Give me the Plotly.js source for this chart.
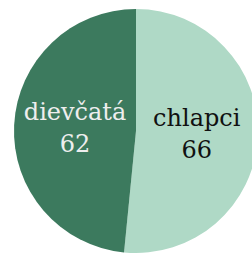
<!DOCTYPE html>
<html><head><meta charset="utf-8">
<script src="https://cdn.plot.ly/plotly-3.0.1.min.js"></script>
<style>html,body{margin:0;padding:0;overflow:hidden;background:#fff;}#chart{width:260px;height:255px;}</style>
</head><body><div id="chart"></div>
<script>
const labels = ["chlapci", "dievčatá"];
const values = [66, 62];
const colors = ["#afd9c6", "#3c7a5e"];
const textColors = ["#111111", "#eeeeee"];

Plotly.newPlot("chart", [{
  type: "pie",
  labels: labels,
  values: values,
  sort: false,
  direction: "clockwise",
  rotation: 0,
  textinfo: "label+value",
  textposition: "inside",
  insidetextorientation: "horizontal",
  marker: {colors: colors, line: {width: 0}},
  textfont: {family: "DejaVu Serif", size: 24, color: textColors},
  hoverinfo: "none"
}], {
  width: 260, height: 255,
  margin: {l: 14, r: 2, t: 9, b: 2},
  showlegend: false,
  paper_bgcolor: "#fff",
  font: {family: "DejaVu Serif"}
}, {displayModeBar: false, staticPlot: true});
</script></body></html>
